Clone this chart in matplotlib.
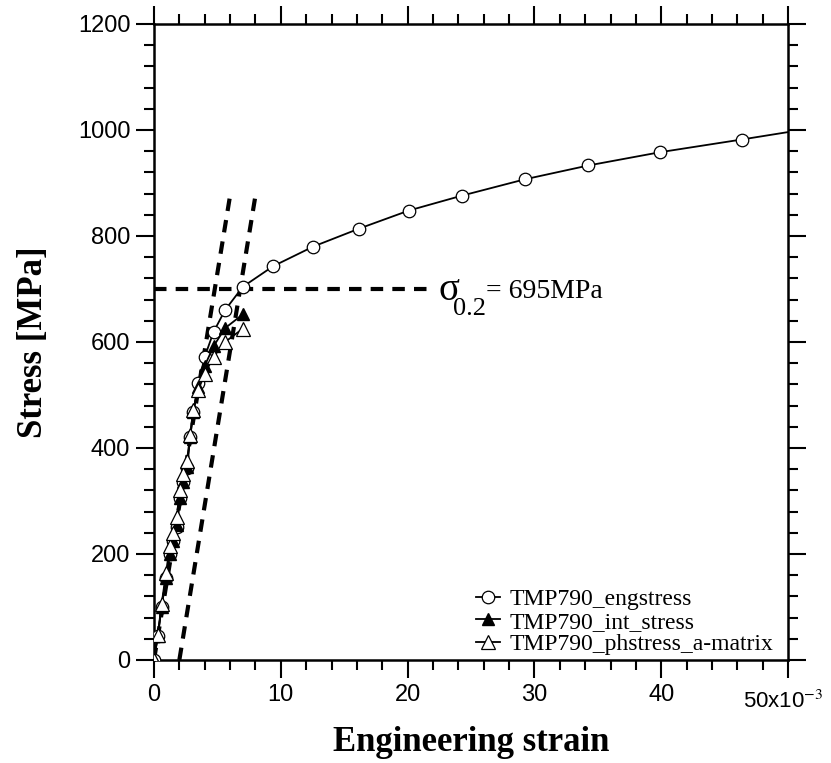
import matplotlib.pyplot as plt
from matplotlib.ticker import MultipleLocator

# strain in units of 1e-3
strain_low = [0, 0.3, 0.6, 0.95, 1.25, 1.5, 1.8, 2.05, 2.3, 2.6, 2.85, 3.1, 3.5, 4.0, 4.7, 5.6, 7.0]
eng_low = [0, 45, 100, 155, 200, 225, 250, 305, 335, 362, 420, 468, 522, 572, 619, 660, 704]
int_stress = [0, 45, 100, 155, 200, 225, 255, 305, 335, 365, 420, 468, 515, 555, 592, 626, 652]
ph_stress = [0, 48, 105, 165, 215, 240, 270, 320, 350, 375, 425, 472, 510, 540, 572, 600, 625]

strain_high = [9.4, 12.56, 16.19, 20.1, 24.27, 29.26, 34.25, 39.9, 46.35, 50.0]
eng_high = [743, 780, 814, 848, 876, 907, 933, 958, 982, 996]

# 0.2% offset construction
modulus = 146.0  # MPa per 1e-3 strain
offset = 2.0
line_top = 880
sigma02 = 700
hline_end = 21.5

plt.rcParams['font.family'] = 'Liberation Sans'
plt.rcParams['mathtext.fontset'] = 'stix'

fig = plt.figure(figsize=(8.31, 7.63), dpi=100)
ax = fig.add_axes([0.1853, 0.135, 0.763, 0.8336])

eng_x = strain_low + strain_high
eng_y = eng_low + eng_high
ax.plot(eng_x, eng_y, color='black', linewidth=1.3, marker='o', markersize=9,
        markerfacecolor='white', markeredgecolor='black', markeredgewidth=0.9,
        markevery=list(range(len(eng_x) - 1)), label='TMP790_engstress', zorder=3)
ax.plot(strain_low, int_stress, color='black', linewidth=1.3, marker='^', markersize=9,
        markerfacecolor='black', markeredgecolor='black', label='TMP790_int_stress', zorder=4)
ax.plot(strain_low, ph_stress, color='black', linewidth=1.3, marker='^', markersize=10,
        markerfacecolor='white', markeredgecolor='black', markeredgewidth=0.9,
        label='TMP790_phstress_a-matrix', zorder=5)

# elastic line, offset line, yield level
dash = (0, (3, 2.2))
ax.plot([0, line_top / modulus], [0, line_top], color='black', linewidth=3, linestyle=dash, zorder=2)
ax.plot([offset, offset + line_top / modulus], [0, line_top], color='black', linewidth=3,
        linestyle=dash, zorder=2)
ax.plot([0, hline_end], [sigma02, sigma02], color='black', linewidth=3, linestyle=dash, zorder=2)

ax.text(22.4, 680, 'σ', fontsize=28, family='Liberation Serif', va='baseline')
ax.text(23.6, 650, '0.2', fontsize=19, family='Liberation Serif', va='baseline')
ax.text(26.2, 683, '= 695MPa', fontsize=20, family='Liberation Serif', va='baseline')

ax.set_xlim(0, 50)
ax.set_ylim(0, 1200)
ax.xaxis.set_minor_locator(MultipleLocator(2))
ax.yaxis.set_major_locator(MultipleLocator(200))
ax.yaxis.set_minor_locator(MultipleLocator(40))
ax.set_xticks([0, 10, 20, 30, 40, 50])
ax.set_xticklabels(['0', '10', '20', '30', '40', ''])
ax.text(49.6, -78, r'50x10$^{-3}$', fontsize=16, ha='center', va='center')

ax.tick_params(which='both', direction='out', top=True, right=True, width=1.5, labelsize=17)
ax.tick_params(which='major', length=13, pad=4)
ax.tick_params(which='minor', length=7)
for s in ax.spines.values():
    s.set_linewidth(1.8)

ax.set_xlabel('Engineering strain', fontsize=25, fontweight='bold', family='Liberation Serif', labelpad=15)
ax.set_ylabel('Stress [MPa]', fontsize=25, fontweight='bold', family='Liberation Serif', labelpad=20)

ax.legend(loc='lower right', bbox_to_anchor=(1.01, -0.026), frameon=False, handlelength=1.0,
          handletextpad=0.4, labelspacing=0.05, prop={'family': 'Liberation Serif', 'size': 17})

fig.savefig('out.png', dpi=100)
